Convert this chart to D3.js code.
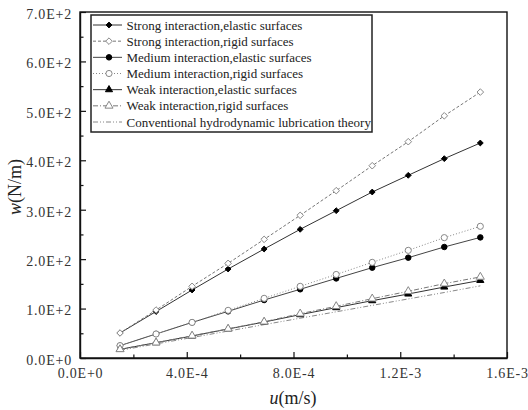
<!DOCTYPE html>
<html><head><meta charset="utf-8">
<script src="https://cdn.jsdelivr.net/npm/d3@7"></script>
<style>
html,body{margin:0;padding:0;background:#fff;}
svg{display:block;}
svg text{font-family:"Liberation Serif","Times New Roman",Times,"DejaVu Serif",serif;}
</style></head>
<body>
<svg id="chart" width="528" height="410"></svg>
<script>
// ---- data ----
const uValues = [1.5e-4, 2.85e-4, 4.2e-4, 5.55e-4, 6.9e-4, 8.25e-4, 9.6e-4, 1.095e-3, 1.23e-3, 1.365e-3, 1.5e-3];
const strongElastic = [50.6, 94, 137.6, 180, 220.5, 260.3, 298, 335.8, 369.6, 403.3, 435];
const strongRigid   = [50.6, 97, 145, 191.5, 240, 288.6, 338.5, 389, 437.6, 490, 538];
const mediumElastic = [25, 48.6, 72, 94.4, 117.3, 139, 161, 182.8, 203, 224.6, 244];
const mediumRigid   = [25, 48.6, 72, 96.4, 120.7, 145, 169, 193.5, 217.8, 243.5, 266.4];
const weakElastic   = [17.5, 31, 44.5, 58.7, 72.8, 87.7, 101.9, 116, 129.5, 143.6, 157];
const weakRigid     = [17.5, 31, 45, 59, 73.3, 89.7, 104.6, 120, 135, 150.4, 164];
const conventional  = [15.5, 28.5, 41.5, 54.5, 67.5, 80.5, 93.5, 106.5, 119.5, 132.5, 146];
const seriesNames = [
  "Strong interaction,elastic surfaces",
  "Strong interaction,rigid surfaces",
  "Medium interaction,elastic surfaces",
  "Medium interaction,rigid surfaces",
  "Weak interaction,elastic surfaces",
  "Weak interaction,rigid surfaces",
  "Conventional hydrodynamic lubrication theory"
];
const xTicks = [0, 4e-4, 8e-4, 1.2e-3, 1.6e-3];
const xTickLabels = ["0.0E+0", "4.0E-4", "8.0E-4", "1.2E-3", "1.6E-3"];
const xMinorTicks = [2e-4, 6e-4, 1e-3, 1.4e-3];
const yTicks = [0, 100, 200, 300, 400, 500, 600, 700];
const yTickLabels = ["0.0E+0", "1.0E+2", "2.0E+2", "3.0E+2", "4.0E+2", "5.0E+2", "6.0E+2", "7.0E+2"];
const yMinorTicks = [50, 150, 250, 350, 450, 550, 650];

// ---- styles ----
const diamond = {draw(ctx, size) { const r = Math.sqrt(size) / 2 * 1.1; ctx.moveTo(0, -r); ctx.lineTo(r, 0); ctx.lineTo(0, r); ctx.lineTo(-r, 0); ctx.closePath(); }};
const styles = [
  {values: strongElastic, line: "#333", dash: null, sym: diamond, size: 28, fill: "#000", stroke: "#000"},
  {values: strongRigid, line: "#777", dash: "3,2", sym: diamond, size: 36, fill: "#fff", stroke: "#888"},
  {values: mediumElastic, line: "#444", dash: null, sym: d3.symbolCircle, size: 24, fill: "#000", stroke: "#000"},
  {values: mediumRigid, line: "#888", dash: "1,2", sym: d3.symbolCircle, size: 30, fill: "#fff", stroke: "#888"},
  {values: weakElastic, line: "#333", dash: null, sym: d3.symbolTriangle, size: 22, fill: "#000", stroke: "#000"},
  {values: weakRigid, line: "#777", dash: "5,2,1,2", sym: d3.symbolTriangle, size: 28, fill: "#fff", stroke: "#888"},
  {values: conventional, line: "#888", dash: "5,2,1,2,1,2", sym: null}
];

const svg = d3.select("#chart");
const x = d3.scaleLinear().domain([0, 1.6e-3]).range([80, 507]);
const y = d3.scaleLinear().domain([0, 700]).range([358, 12]);

const fontStack = '"Liberation Serif","Times New Roman",Times,"DejaVu Serif",serif';

// frame
svg.append("rect").attr("x", 80).attr("y", 12).attr("width", 427).attr("height", 346)
  .attr("fill", "none").attr("stroke", "#111").attr("stroke-width", 1.4);

// x axis
const xAxis = d3.axisBottom(x).tickValues(xTicks).tickFormat((d, i) => xTickLabels[i]).tickSizeInner(-6).tickSizeOuter(0).tickPadding(10);
const gx = svg.append("g").attr("transform", "translate(0,358)").call(xAxis).attr("font-family", null);
gx.select(".domain").attr("stroke", "#111").attr("stroke-width", 1.4);
gx.selectAll(".tick line").attr("stroke", "#111").attr("stroke-width", 1.2);
gx.selectAll("text").style("font-family", fontStack).attr("font-size", 14).attr("fill", "#333").attr("letter-spacing", 0.8);
const xMinor = d3.axisBottom(x).tickValues(xMinorTicks).tickFormat("").tickSizeInner(-3.5).tickSizeOuter(0);
const gxm = svg.append("g").attr("transform", "translate(0,358)").call(xMinor);
gxm.select(".domain").remove();
gxm.selectAll(".tick line").attr("stroke", "#111").attr("stroke-width", 1.2);

// y axis
const yAxis = d3.axisLeft(y).tickValues(yTicks).tickFormat((d, i) => yTickLabels[i]).tickSizeInner(-6).tickSizeOuter(0).tickPadding(8);
const gy = svg.append("g").attr("transform", "translate(80,0)").call(yAxis).attr("font-family", null);
gy.select(".domain").attr("stroke", "#111").attr("stroke-width", 1.4);
gy.selectAll(".tick line").attr("stroke", "#111").attr("stroke-width", 1.2);
gy.selectAll("text").style("font-family", fontStack).attr("font-size", 14).attr("fill", "#333").attr("letter-spacing", 0.8).attr("dy", "0.45em");
const yMinor = d3.axisLeft(y).tickValues(yMinorTicks).tickFormat("").tickSizeInner(-3.5).tickSizeOuter(0);
const gym = svg.append("g").attr("transform", "translate(80,0)").call(yMinor);
gym.select(".domain").remove();
gym.selectAll(".tick line").attr("stroke", "#111").attr("stroke-width", 1.2);

// axis titles
const xt = svg.append("text").attr("x", 293).attr("y", 404).attr("text-anchor", "middle")
  .style("font-family", fontStack).attr("font-size", 18).attr("fill", "#222");
xt.append("tspan").attr("font-style", "italic").text("u");
xt.append("tspan").text("(m/s)");
const yt = svg.append("text").attr("transform", "translate(21,187) rotate(-90)").attr("text-anchor", "middle")
  .style("font-family", fontStack).attr("font-size", 18).attr("fill", "#222");
yt.append("tspan").attr("font-style", "italic").text("w");
yt.append("tspan").text("(N/m)");

// series
const lineGen = vals => d3.line().x((d, i) => x(uValues[i])).y(d => y(d))(vals);
const plot = svg.append("g");
styles.forEach(s => {
  plot.append("path").attr("d", lineGen(s.values)).attr("fill", "none")
    .attr("stroke", s.line).attr("stroke-width", 1).attr("stroke-dasharray", s.dash);
});
styles.forEach(s => {
  if (!s.sym) return;
  plot.selectAll(null).data(s.values).enter().append("path")
    .attr("d", d3.symbol().type(s.sym).size(s.size))
    .attr("transform", (d, i) => `translate(${x(uValues[i])},${y(d)})`)
    .attr("fill", s.fill).attr("stroke", s.stroke).attr("stroke-width", 1);
});

// legend
const lg = svg.append("g");
lg.append("rect").attr("x", 91).attr("y", 15).attr("width", 281).attr("height", 117)
  .attr("fill", "#fff").attr("stroke", "#222").attr("stroke-width", 1.5);
const rowY = d3.scaleLinear().domain([0, 6]).range([25, 122]);
styles.forEach((s, i) => {
  const yy = rowY(i);
  lg.append("line").attr("x1", 93).attr("x2", 122).attr("y1", yy).attr("y2", yy)
    .attr("stroke", s.line).attr("stroke-width", 1).attr("stroke-dasharray", s.dash);
  if (s.sym) {
    lg.append("path").attr("d", d3.symbol().type(s.sym).size(s.size))
      .attr("transform", `translate(109,${yy})`)
      .attr("fill", s.fill).attr("stroke", s.stroke).attr("stroke-width", 1);
  }
  lg.append("text").attr("x", 126.5).attr("y", yy).attr("dy", "0.35em")
    .style("font-family", fontStack).attr("font-size", 13).attr("fill", "#222")
    .text(seriesNames[i]);
});
</script>
</body></html>
